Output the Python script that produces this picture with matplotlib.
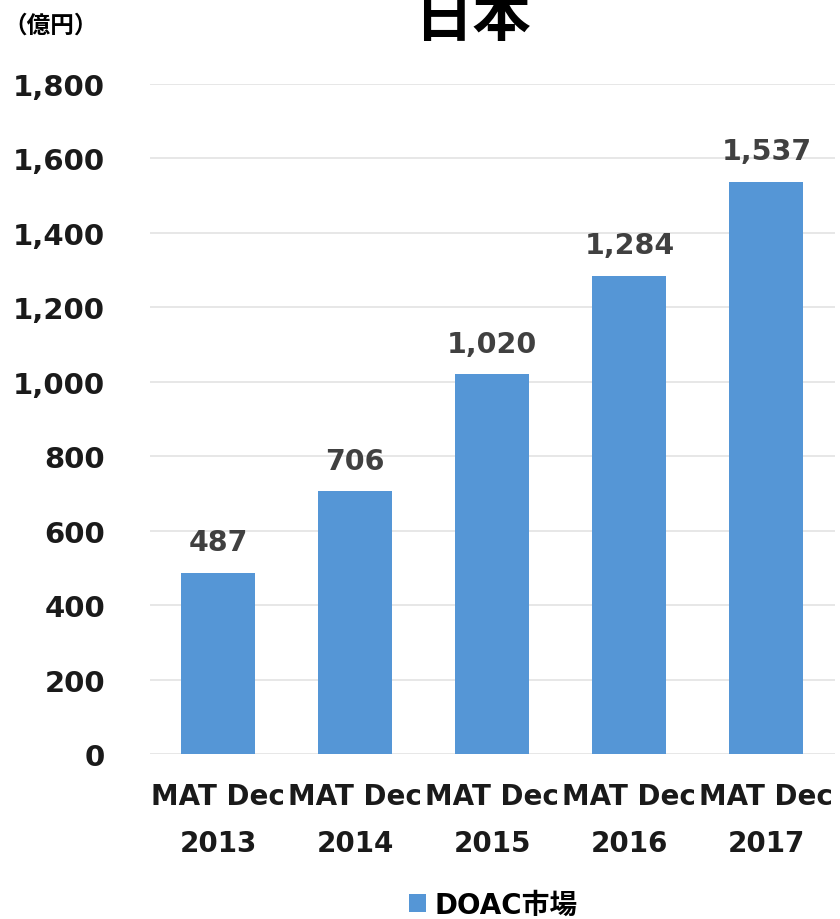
import matplotlib
matplotlib.use("Agg")
import matplotlib.pyplot as plt
from matplotlib.patches import Patch

plt.rcParams['font.family'] = ['DejaVu Sans', 'Noto Sans CJK JP']

categories = ["MAT Dec\n2013", "MAT Dec\n2014", "MAT Dec\n2015", "MAT Dec\n2016", "MAT Dec\n2017"]
values = [487, 706, 1020, 1284, 1537]
value_labels = ["487", "706", "1,020", "1,284", "1,537"]
y_ticks = [0, 200, 400, 600, 800, 1000, 1200, 1400, 1600, 1800]
y_tick_labels = ["0", "200", "400", "600", "800", "1,000", "1,200", "1,400", "1,600", "1,800"]
series_name = "DOAC市場"
title = "日本"
unit = "（億円）"

bar_color = "#5596D6"

fig = plt.figure(figsize=(8.4, 9.2), dpi=100)
ax = fig.add_axes([0.178, 0.179, 0.816, 0.729])

x = range(len(categories))
bars = ax.bar(x, values, width=0.54, color=bar_color, zorder=3)
ax.bar_label(bars, labels=value_labels, padding=12, fontsize=20.5, fontweight='bold', color='#404040')

ax.set_ylim(0, 1800)
ax.set_xlim(-0.5, len(categories) - 0.5)
ax.set_yticks(y_ticks)
ax.set_yticklabels(y_tick_labels, fontsize=21, fontweight='bold', color='#1a1a1a')
ax.set_xticks(list(x))
ax.set_xticklabels(categories, fontsize=20, fontweight='bold', color='#1a1a1a', linespacing=1.85)
ax.tick_params(axis='y', length=0, pad=32)
ax.tick_params(axis='x', length=0, pad=20)
ax.yaxis.grid(True, color='#E3E3E3', linewidth=1.2, zorder=0)
for s in ax.spines.values():
    s.set_visible(False)

fig.text(0.562, 0.961, title, fontsize=42, fontweight='bold', ha='center', va='baseline',
         family=['Noto Sans CJK JP'])
fig.text(0.004, 0.972, unit, fontsize=17, fontweight='bold', ha='left', va='center',
         family=['Noto Sans CJK JP'])

handle = Patch(facecolor=bar_color, edgecolor='none')
fig.legend([handle], [series_name], loc='center', bbox_to_anchor=(0.587, 14 / 920),
           frameon=False, handlelength=0.6, handleheight=0.6, handletextpad=0.3,
           prop={'family': ['DejaVu Sans', 'Noto Sans CJK JP'], 'weight': 'bold', 'size': 20})

fig.savefig("out.png", dpi=100)
